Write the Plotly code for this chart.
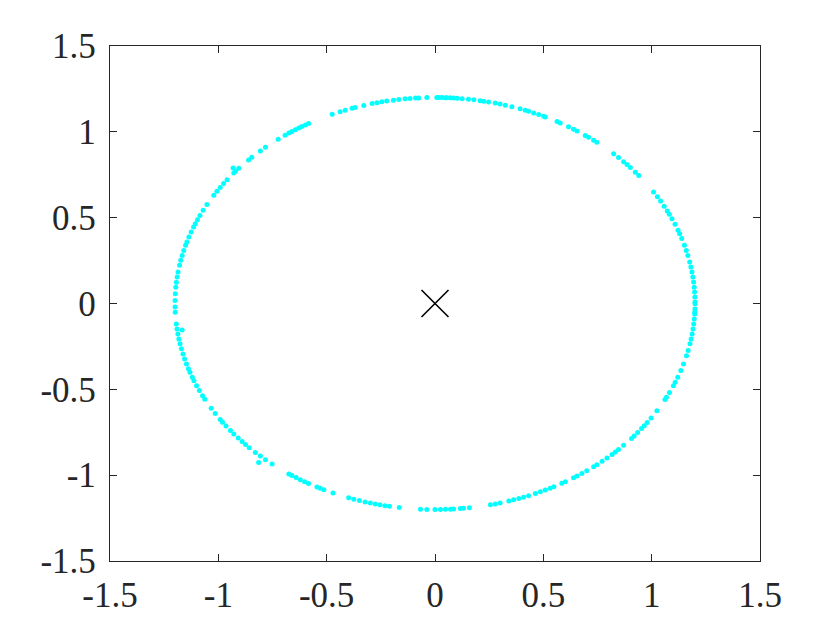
import numpy as np
import plotly.graph_objects as go

# angles (deg) of the cyan dots read around the ring, radius ~1.2
ring_radius = 1.2
ring_angles_deg = [
    0.4, 1.8, 3.2, 4.5, 6.0, 7.4, 8.8, 10.2, 11.6, 13.5, 14.9, 16.4, 18.4, 19.8,
    20.8, 22.6, 24.3, 25.7, 26.7, 28.2, 29.8, 31.2, 32.8,
    38.4, 39.6, 41.3, 42.4, 43.5, 45.1, 46.6,
    51.5, 52.4, 53.8, 54.7, 56.9, 57.8, 59.1, 61.2, 62.0,
    64.9, 65.3, 66.5, 67.7, 68.9, 69.7, 70.9, 72.8, 74.3, 75.5, 76.6, 78.1, 79.2,
    80.0, 81.4, 82.6, 84.0, 85.1, 85.9, 86.6, 87.4, 87.7, 88.5, 89.2, 89.6, 91.8,
    93.6, 94.3, 95.5, 96.6, 98.0, 99.2, 100.7, 101.8, 102.9, 104.0, 105.9, 107.9,
    108.6, 110.2, 111.4, 113.3,
    119.1, 119.9, 120.8, 121.6, 122.5, 123.4, 124.2, 125.2, 127.1, 130.7, 132.2,
    134.8, 135.8, 139.0, 140.1, 140.7, 143.1, 144.4, 145.7, 147.0, 148.3, 151.3,
    153.1, 154.7, 156.0, 157.2, 158.2, 159.7, 161.2, 162.6, 163.6, 165.1, 166.5,
    167.9, 169.3, 171.2, 172.6, 174.1, 175.5, 177.3, 179.2, 181.0, 182.4, 185.7,
    187.1, 188.5, 189.9, 191.3, 192.7, 194.2, 195.6, 197.1, 198.5, 199.5, 201.0,
    202.0, 203.5, 205.0, 206.6, 207.7,
    210.6, 212.3, 214.3, 215.2, 216.5, 218.1, 219.3, 220.8, 222.1, 223.2, 224.4,
    226.3, 227.8, 229.3, 231.2,
    235.8, 236.6, 237.7, 238.8, 239.9, 240.9, 243.0, 243.8, 244.7, 246.9,
    250.6, 251.8, 253.1, 254.4, 255.6, 256.7, 257.8, 258.9, 259.9, 262.1,
    266.8, 268.2, 270.0, 271.2, 272.3, 273.4, 274.1, 275.6, 276.3, 277.6,
    282.3, 283.4, 284.5, 286.5, 287.6, 288.8, 289.9, 291.1, 292.7, 293.9, 295.1,
    296.3, 297.2, 299.2, 300.1, 302.2, 303.1, 304.4, 305.7, 307.6, 308.5, 310.0,
    311.4, 312.9, 313.9, 314.9, 316.5,
    319.1, 320.0, 321.2, 322.6, 323.6, 324.7, 326.2, 328.6,
    332.2, 332.9, 334.4, 336.5, 337.5, 339.0, 341.0, 342.9, 345.3, 346.8, 348.7,
    350.1, 351.5, 352.9, 354.3, 355.7, 357.1, 357.6, 358.5, 359.9,
]
# a few stray dots slightly off the ring
stray_x = [-0.932, -1.167, -0.814]
stray_y = [0.790, -0.154, -0.926]

center_x = [0]
center_y = [0]

ticks = [-1.5, -1, -0.5, 0, 0.5, 1, 1.5]
tick_text = ['-1.5', '-1', '-0.5', '0', '0.5', '1', '1.5']

theta = np.radians(ring_angles_deg)
x = list(ring_radius * np.cos(theta)) + stray_x
y = list(ring_radius * np.sin(theta)) + stray_y

fig = go.Figure()

fig.add_trace(go.Scatter(
    x=x, y=y, mode='markers',
    marker=dict(color='#00ffff', size=5, line=dict(width=0)),
    showlegend=False
))

fig.add_trace(go.Scatter(
    x=center_x, y=center_y, mode='markers',
    marker=dict(symbol='x-thin', size=27, color='black',
                line=dict(color='black', width=1.6)),
    showlegend=False
))

axis_style = dict(
    range=[-1.5, 1.5],
    tickvals=ticks,
    ticktext=tick_text,
    ticks='inside',
    ticklen=7,
    tickwidth=1.2,
    tickcolor='#262626',
    showline=True,
    linecolor='#262626',
    linewidth=1.3,
    mirror='ticks',
    showgrid=False,
    zeroline=False,
    tickfont=dict(family='Liberation Serif, Times New Roman, serif', size=35, color='#262626'),
)

# page body has an 8px margin, so margins are trimmed to keep the box in place
fig.update_layout(
    width=840,
    height=630,
    margin=dict(l=102, r=88, t=38, b=77),
    plot_bgcolor='white',
    paper_bgcolor='white',
    xaxis=dict(**axis_style, ticklabelstandoff=3),
    yaxis=dict(**axis_style, ticklabelstandoff=6),
)

fig.write_html("out.html")
